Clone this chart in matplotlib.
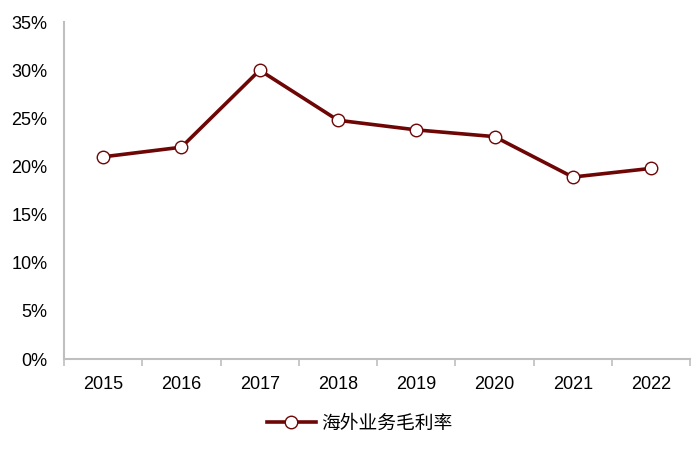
import matplotlib
matplotlib.use("Agg")
import matplotlib.pyplot as plt
from matplotlib.ticker import FixedLocator, FuncFormatter, NullFormatter
from matplotlib.lines import Line2D

years = ["2015", "2016", "2017", "2018", "2019", "2020", "2021", "2022"]
margin = [21.0, 22.0, 30.0, 24.8, 23.8, 23.1, 18.9, 19.8]
series_name = "海外业务毛利率"

plt.rcParams['font.family'] = ['Liberation Sans', 'Noto Sans CJK SC', 'DejaVu Sans']

fig = plt.figure(figsize=(7, 4.5), dpi=100)
ax = fig.add_axes([0.0914, 0.2022, 0.8946, 0.7488])

color = '#6E0606'
x = list(range(len(years)))
ax.plot(x, margin, color=color, lw=2.6, marker='o', markersize=9,
        markerfacecolor='white', markeredgecolor=color, markeredgewidth=1.0,
        solid_joinstyle='miter', zorder=3)

ax.set_xlim(-0.5, len(years) - 0.5)
ax.set_ylim(0, 35)
ax.set_yticks(range(0, 36, 5))
ax.yaxis.set_major_formatter(FuncFormatter(lambda v, p: f"{int(v)}%"))
ax.set_xticks(x)
ax.set_xticklabels(years)
ax.xaxis.set_minor_locator(FixedLocator([i - 0.5 for i in range(len(years) + 1)]))
ax.xaxis.set_minor_formatter(NullFormatter())
ax.tick_params(axis='x', which='major', length=0, labelsize=13, pad=12, colors='black')
ax.tick_params(axis='x', which='minor', length=5, width=1.2, color='#BFBFBF')
ax.tick_params(axis='y', length=0, labelsize=13, pad=12, colors='black')

for s in ['top', 'right']:
    ax.spines[s].set_visible(False)
for s in ['left', 'bottom']:
    ax.spines[s].set_color('#BFBFBF')
    ax.spines[s].set_linewidth(1.5)

handle = Line2D([0], [0], color=color, lw=2.6, marker='o', markersize=9,
                markerfacecolor='white', markeredgecolor=color, markeredgewidth=1.0)
leg = fig.legend([handle], [series_name], loc='center', bbox_to_anchor=(0.514, 0.06),
                 frameon=False, handlelength=2.6, handletextpad=0.3,
                 prop={'family': ['Noto Sans CJK SC', 'DejaVu Sans'], 'size': 13.5})

fig.savefig("out.png", dpi=100)
